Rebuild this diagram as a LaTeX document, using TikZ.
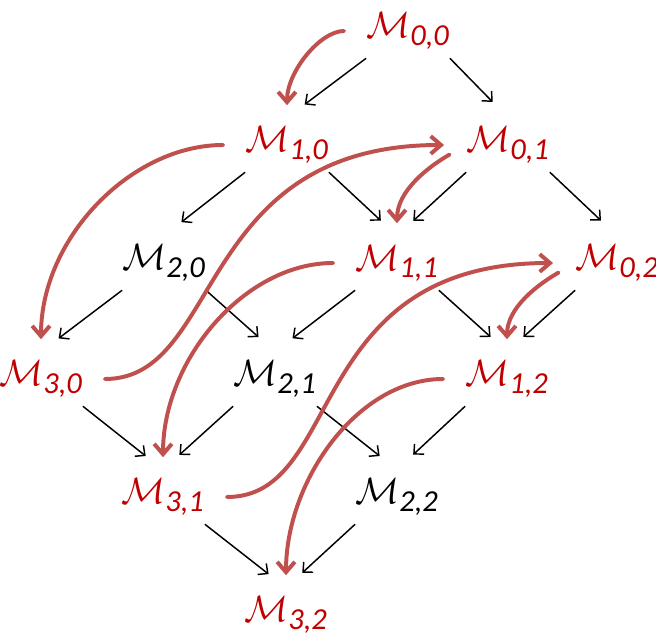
\documentclass[tikz,border=0pt]{standalone}
\usepackage{amsmath}
\usepackage{fontspec}
\setmainfont{Carlito}
\usepackage{tikz}
\usetikzlibrary{arrows.meta}
\definecolor{mred}{HTML}{C00000}
\definecolor{cred}{HTML}{C0504D}
\newcommand{\Mx}[1]{$\mathcal{M}_{\textit{#1}}$}
\tikzset{
  mnode/.style={inner sep=0pt, minimum width=53pt, minimum height=36.7pt, font=\Huge},
  act/.style={mnode, text=mred},
  fl/.style={-{Straight Barb[length=5pt,width=9.5pt]}, draw=black, line width=1pt,
             shorten >=15pt},
  rc/.style={-{Straight Barb[length=7pt,width=12pt]}, draw=cred, line width=2.7pt,
             line cap=round, shorten <=15pt, shorten >=8.5pt}
}

\begin{document}
\begin{tikzpicture}[x=0.68pt, y=-0.68pt]
\useasboundingbox (0,0) rectangle (656,639);

\node[act]   (M00) at (408,31)  {\Mx{0,0}};
\node[act]   (M10) at (287,145) {\Mx{1,0}};
\node[act]   (M01) at (508,145) {\Mx{0,1}};
\node[mnode] (M20) at (164,263) {\Mx{2,0}};
\node[act]   (M11) at (397,263) {\Mx{1,1}};
\node[act]   (M02) at (617,263) {\Mx{0,2}};
\node[act]   (M30) at (41,379)  {\Mx{3,0}};
\node[mnode] (M21) at (275,379) {\Mx{2,1}};
\node[act]   (M12) at (507,379) {\Mx{1,2}};
\node[act]   (M31) at (163,497) {\Mx{3,1}};
\node[mnode] (M22) at (397,497) {\Mx{2,2}};
\node[act]   (M32) at (286,615) {\Mx{3,2}};

% lattice
\draw[fl] (M00.south west) -- (M10.north);
\draw[fl] (M00.south east) -- (M01.north);
\draw[fl] (M10.south west) -- (M20.north);
\draw[fl] (M10.south east) -- (M11.north);
\draw[fl] (M01.south west) -- (M11.north);
\draw[fl] (M01.south east) -- (M02.north);
\draw[fl] (M20.south west) -- (M30.north);
\draw[fl] (M20.south east) -- (M21.north);
\draw[fl] (M11.south west) -- (M21.north);
\draw[fl] (M11.south east) -- (M12.north);
\draw[fl] (M02.south west) -- (M12.north);
\draw[fl] (M30.south east) -- (M31.north);
\draw[fl] (M21.south west) -- (M31.north);
\draw[fl] (M21.south east) -- (M22.north);
\draw[fl] (M12.south west) -- (M22.north);
\draw[fl] (M31.south east) -- (M32.north);
\draw[fl] (M22.south west) -- (M32.north);

% visiting order
\draw[rc] (M00.west) to[out=180,in=90] (M10.north);
\draw[rc] (M10.west) to[out=180,in=90] (M30.north);
\draw[rc, shorten >=15pt] (M30.east) .. controls +(140,0) and +(-272,0) .. (M01.west);
\draw[rc, shorten <=13pt] (M01.west) to[out=210,in=90] (M11.north);
\draw[rc] (M11.west) to[out=180,in=90] (M31.north);
\draw[rc, shorten >=15pt] (M31.east) .. controls +(140,0) and +(-272,0) .. (M02.west);
\draw[rc, shorten <=13pt] (M02.west) to[out=210,in=90] (M12.north);
\draw[rc] (M12.west) to[out=180,in=90] (M32.north);
\end{tikzpicture}
\end{document}
